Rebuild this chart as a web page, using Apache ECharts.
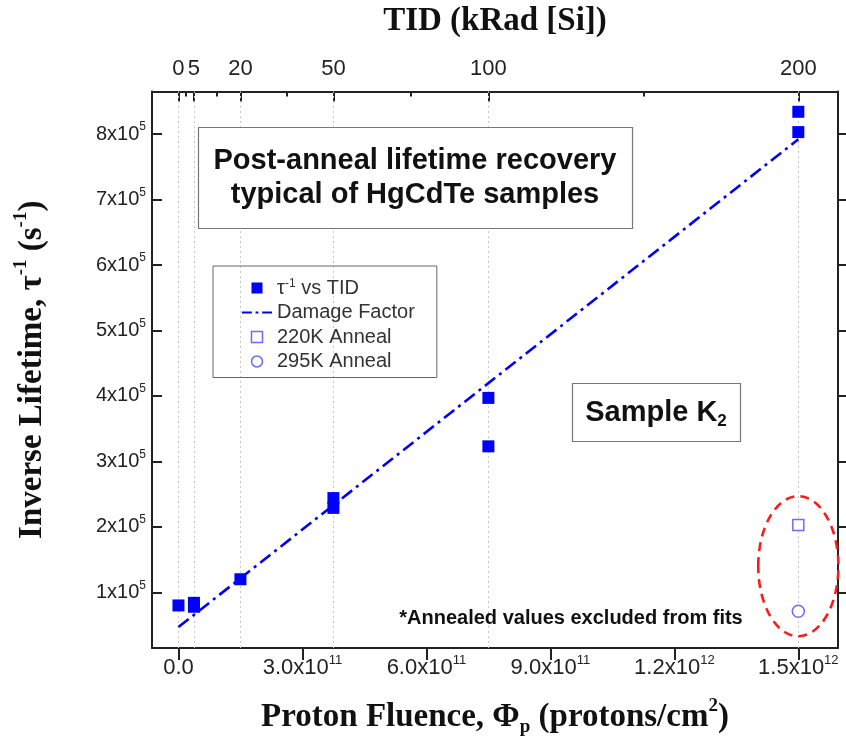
<!DOCTYPE html>
<html><head><meta charset="utf-8">
<script src="https://cdn.jsdelivr.net/npm/echarts@6/dist/echarts.min.js"></script>
<style>html,body{margin:0;padding:0;background:#fff}#c{width:846px;height:754px}</style>
</head><body><div id="c"></div>
<script>
// ---- data ----
const fluence   = [0, 3.75e10, 3.75e10, 1.5e11, 3.75e11, 3.75e11, 7.5e11, 7.5e11, 1.5e12, 1.5e12];
const invLife   = [0.80e5, 0.84e5, 0.78e5, 1.20e5, 2.44e5, 2.29e5, 3.97e5, 3.23e5, 8.34e5, 8.03e5];
const fitX      = [0, 1.5e12];
const fitY      = [0.47e5, 7.92e5];
const anneal220X = [1.5e12];
const anneal220Y = [2.03e5];
const anneal295X = [1.5e12];
const anneal295Y = [0.71e5];
const xTicks    = [0, 3e11, 6e11, 9e11, 1.2e12, 1.5e12];
const yTicks    = [1e5, 2e5, 3e5, 4e5, 5e5, 6e5, 7e5, 8e5];
const tidLabels = [0, 5, 20, 50, 100, 200];
const tidFluence = [0, 3.75e10, 1.5e11, 3.75e11, 7.5e11, 1.5e12];
const tidMinor  = [1.875e10, 9.375e10, 2.625e11, 5.625e11, 1.125e12];
const ellipseCenter = [1.5e12, 1.4e5];
const ellipseSemi   = [0.97e11, 1.07e5];

const X_MIN = -6.4e10, X_MAX = 1.596e12, Y_MIN = 0.15e5, Y_MAX = 8.65e5;
const SANS = 'Liberation Sans, Arial, sans-serif';
const SERIF = 'Liberation Serif, Times New Roman, serif';
const BLUE = '#0000ff', LIGHT = '#6b6bff', AX = '#222';

const zip = (a, b) => a.map((v, i) => [v, b[i]]);

function fmtX(v) {
  if (v === 0) return '{a|0.0}';
  const e = Math.floor(Math.log10(v) + 1e-9);
  const m = v / Math.pow(10, e);
  return '{a|' + m.toFixed(1) + 'x10}{s|' + e + '}';
}
function fmtY(v) { return '{a|' + Math.round(v / 1e5) + 'x10}{s|5}'; }
function fmtTop(v) {
  for (let i = 0; i < tidFluence.length; i++) if (Math.abs(tidFluence[i] - v) < 1e6) return String(tidLabels[i]);
  return '';
}
const xRich = {
  a: { fontSize: 22, lineHeight: 28, fontFamily: SANS, color: AX },
  s: { fontSize: 13, lineHeight: 14, fontFamily: SANS, color: AX, verticalAlign: 'top' }
};
const yRich = {
  a: { fontSize: 20, lineHeight: 26, fontFamily: SANS, color: AX },
  s: { fontSize: 12, lineHeight: 14, fontFamily: SANS, color: AX, verticalAlign: 'top' }
};
const nameRich = {
  b: { fontSize: 33, lineHeight: 40, fontFamily: SERIF, fontWeight: 'bold', color: '#111' },
  sp: { fontSize: 19, lineHeight: 20, fontFamily: SERIF, fontWeight: 'bold', color: '#111', verticalAlign: 'top' },
  sb: { fontSize: 19, lineHeight: 20, fontFamily: SERIF, fontWeight: 'bold', color: '#111', verticalAlign: 'bottom' }
};

const chart = echarts.init(document.getElementById('c'), null, { renderer: 'canvas' });
const option = {
  animation: false,
  backgroundColor: '#fff',
  grid: { left: 152, right: 8, top: 88, bottom: 106, containLabel: false },
  legend: {
    orient: 'vertical', left: 213, top: 266,
    borderColor: '#666', borderWidth: 1,
    padding: [12, 22, 6, 29],
    itemGap: 4.5, itemWidth: 30, itemHeight: 11,
    textStyle: { fontSize: 20, lineHeight: 20, fontFamily: SANS, color: '#333',
      rich: { t: { fontSize: 20, lineHeight: 20, fontFamily: SANS, color: '#333' },
              s: { fontSize: 12, fontFamily: SANS, color: '#333', verticalAlign: 'top', lineHeight: 12 } } },
    formatter: n => n === 'τ-1 vs TID' ? '{t|τ}{s|-1}{t| vs TID}' : n,
    data: [
      { name: 'τ-1 vs TID', icon: 'path://M0,0h10v10h-10z', itemStyle: { color: BLUE, opacity: 1 } },
      { name: 'Damage Factor', icon: 'path://M0,0h12v2.6h-12z M16.5,0h3.5v2.6h-3.5z M24.5,0h12v2.6h-12z', itemStyle: { color: BLUE } },
      { name: '220K Anneal', icon: 'path://M0,0h10v10h-10z', itemStyle: { color: '#fff', borderColor: LIGHT, borderWidth: 1.5 } },
      { name: '295K Anneal', icon: 'circle', itemStyle: { color: '#fff', borderColor: LIGHT, borderWidth: 1.5 } }
    ]
  },
  xAxis: [
    {
      type: 'value', position: 'bottom', min: X_MIN, max: X_MAX,
      axisLine: { show: true, onZero: false, lineStyle: { color: AX, width: 2 } },
      axisTick: { show: true, customValues: xTicks, length: 12, lineStyle: { color: AX, width: 2 } },
      axisLabel: { customValues: xTicks, formatter: fmtX, margin: 6, rich: xRich },
      splitLine: { show: false },
      name: '{b|Proton Fluence, Φ}{sb|p}{b| (protons/cm}{sp|2}{b|)}',
      nameLocation: 'middle', nameGap: 49, nameTextStyle: { rich: nameRich }
    },
    {
      type: 'value', position: 'top', min: X_MIN, max: X_MAX,
      axisLine: { show: true, onZero: false, lineStyle: { color: AX, width: 2 } },
      axisTick: { show: true, inside: true, customValues: tidFluence, length: 10, lineStyle: { color: AX, width: 2 } },
      axisLabel: { customValues: tidFluence, formatter: fmtTop, margin: 12, fontSize: 22, fontFamily: SANS, color: AX },
      splitLine: { show: false },
      name: '{b|TID (kRad [Si])}', nameLocation: 'middle', nameGap: 50, nameTextStyle: { rich: nameRich }
    },
    {
      type: 'value', position: 'top', min: X_MIN, max: X_MAX,
      axisLine: { show: false },
      axisTick: { show: true, inside: true, customValues: tidMinor, length: 5, lineStyle: { color: AX, width: 2 } },
      axisLabel: { show: false }, splitLine: { show: false }
    }
  ],
  yAxis: [
    {
      type: 'value', position: 'left', min: Y_MIN, max: Y_MAX,
      axisLine: { show: true, onZero: false, lineStyle: { color: AX, width: 2 } },
      axisTick: { show: true, inside: true, customValues: yTicks, length: 10, lineStyle: { color: AX, width: 2 } },
      axisLabel: { customValues: yTicks, formatter: fmtY, margin: 6, rich: yRich },
      splitLine: { show: false },
      name: '{b|Inverse Lifetime, τ}{sp|-1}{b| (s}{sp|-1}{b|)}',
      nameLocation: 'middle', nameRotate: 90, nameGap: 100, nameTextStyle: { rich: nameRich }
    },
    {
      type: 'value', position: 'right', min: Y_MIN, max: Y_MAX,
      axisLine: { show: true, onZero: false, lineStyle: { color: AX, width: 2 } },
      axisTick: { show: true, customValues: yTicks, length: 8, lineStyle: { color: AX, width: 2 } },
      axisLabel: { show: false }, splitLine: { show: false }
    }
  ],
  series: [
    {
      name: 'gridlines', type: 'line', data: [], silent: true, z: 1,
      markLine: {
        silent: true, symbol: 'none', label: { show: false }, z: 1,
        lineStyle: { color: '#c8c8c8', type: [2, 3], width: 1 },
        data: tidFluence.map(v => ({ xAxis: v }))
      }
    },
    {
      name: 'Damage Factor', type: 'line', data: zip(fitX, fitY), symbol: 'none', z: 3,
      itemStyle: { color: BLUE },
      lineStyle: { color: BLUE, width: 2.6, type: [13, 5, 3, 5] }
    },
    {
      name: 'τ-1 vs TID', type: 'scatter', data: zip(fluence, invLife), symbol: 'rect', symbolSize: 12, z: 4,
      itemStyle: { color: BLUE, opacity: 1 }
    },
    {
      name: '220K Anneal', type: 'scatter', data: zip(anneal220X, anneal220Y), symbol: 'rect', symbolSize: 11, z: 4,
      itemStyle: { color: '#fff', borderColor: LIGHT, borderWidth: 1.5, opacity: 1 }
    },
    {
      name: '295K Anneal', type: 'scatter', data: zip(anneal295X, anneal295Y), symbol: 'circle', symbolSize: 12, z: 4,
      itemStyle: { color: '#fff', borderColor: LIGHT, borderWidth: 1.5, opacity: 1 }
    }
  ]
};
chart.setOption(option);

const c = chart.convertToPixel({ gridIndex: 0 }, ellipseCenter);
const e1 = chart.convertToPixel({ gridIndex: 0 }, [ellipseCenter[0] + ellipseSemi[0], ellipseCenter[1] + ellipseSemi[1]]);
chart.setOption({
  graphic: [
    { type: 'ellipse', shape: { cx: c[0], cy: c[1], rx: Math.abs(e1[0] - c[0]), ry: Math.abs(e1[1] - c[1]) },
      style: { fill: 'none', stroke: '#ff1a1a', lineWidth: 2.6, lineDash: [9, 6] }, z: 2 },
    { type: 'rect', shape: { x: 198.5, y: 127.5, width: 434, height: 101 },
      style: { fill: '#fff', stroke: '#777', lineWidth: 1.2 }, z: 10 },
    { type: 'text', x: 415, y: 178, z: 11,
      style: { text: 'Post-anneal lifetime recovery\ntypical of HgCdTe samples', align: 'center', verticalAlign: 'middle',
               font: 'bold 29px ' + SANS, lineHeight: 34, fill: '#111' } },
    { type: 'rect', shape: { x: 572.5, y: 383.5, width: 168, height: 58 },
      style: { fill: '#fff', stroke: '#777', lineWidth: 1.2 }, z: 10 },
    { type: 'text', x: 656, y: 413, z: 11,
      style: { text: '{m|Sample K}{d|2}', align: 'center', verticalAlign: 'middle',
               rich: { m: { font: 'bold 29px ' + SANS, fill: '#111', lineHeight: 34 },
                       d: { font: 'bold 17px ' + SANS, fill: '#111', lineHeight: 18, verticalAlign: 'bottom' } } } },
    { type: 'text', x: 571, y: 618, z: 11,
      style: { text: '*Annealed values excluded from fits', align: 'center', verticalAlign: 'middle',
               font: 'bold 20px ' + SANS, fill: '#111' } }
  ]
});
</script></body></html>
